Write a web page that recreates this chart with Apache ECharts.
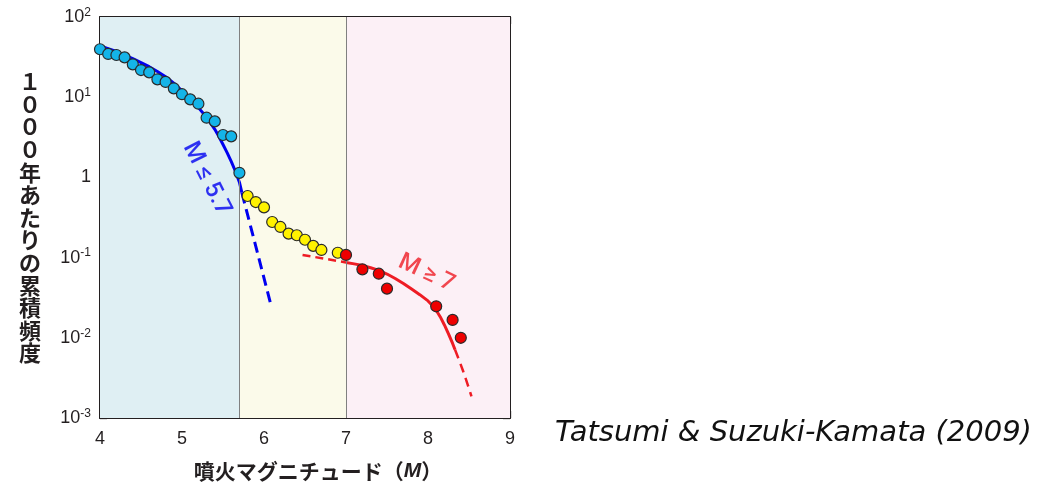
<!DOCTYPE html>
<html><head><meta charset="utf-8">
<script src="https://cdn.jsdelivr.net/npm/echarts@6/dist/echarts.min.js"></script>
<style>html,body{margin:0;padding:0;background:#fff;}#c{width:1038px;height:484px;}</style>
</head><body><div id="c"></div>
<script>
// ---- data ----
const xTicks = [4, 5, 6, 7, 8, 9];
const yTickExponents = [-3, -2, -1, 0, 1, 2];
const regionBounds = [4, 5.7, 7, 9];
const xTitle = '噴火マグニチュード（{i|M}）';
const yTitle = '１０００年あたりの累積頻度';
const credit = 'Tatsumi & Suzuki-Kamata (2009)';
const smallLabel = 'M ≤ 5.7';
const largeLabel = 'M ≥ 7';

const smallM = [4.0, 4.1, 4.2, 4.3, 4.4, 4.5, 4.6, 4.7, 4.8, 4.9, 5.0, 5.1, 5.2, 5.3, 5.4, 5.5, 5.6, 5.7];
const smallN = [39.6, 34.6, 33.6, 31.4, 25.7, 21.8, 20.4, 16.7, 15.5, 12.9, 10.9, 9.4, 8.3, 5.55, 5.0, 3.38, 3.25, 1.14];
const midM = [5.8, 5.9, 6.0, 6.1, 6.2, 6.3, 6.4, 6.5, 6.6, 6.7, 6.9];
const midN = [0.586, 0.493, 0.423, 0.278, 0.241, 0.199, 0.190, 0.167, 0.140, 0.1245, 0.115];
const largeM = [7.0, 7.2, 7.4, 7.5, 8.1, 8.3, 8.4];
const largeN = [0.108, 0.0714, 0.063, 0.041, 0.0247, 0.0167, 0.0100];

const blueFitM = [4.0, 4.1, 4.2, 4.3, 4.4, 4.5, 4.6, 4.7, 4.8, 4.9, 5.0, 5.1, 5.2, 5.3, 5.4, 5.45, 5.5, 5.55, 5.6, 5.65, 5.7, 5.73];
const blueFitN = [43.65, 40.27, 37.15, 33.50, 30.20, 26.92, 23.99, 20.89, 17.99, 14.96, 12.02, 9.55, 7.41, 5.62, 3.98, 3.24, 2.57, 2.04, 1.585, 1.202, 0.871, 0.646];
const blueDashM = [5.73, 6.09];
const blueDashN = [0.646, 0.0245];
const redDashLeftM = [6.47, 7.0];
const redDashLeftN = [0.108, 0.0871];
const redFitM = [7.0, 7.1, 7.2, 7.3, 7.4, 7.5, 7.6, 7.7, 7.8, 7.9, 8.0, 8.065, 8.1, 8.15, 8.2, 8.25, 8.3, 8.33];
const redFitN = [0.0871, 0.08356, 0.0798, 0.07482, 0.06918, 0.06237, 0.05495, 0.04764, 0.04055, 0.03451, 0.02884, 0.02455, 0.02208, 0.0182, 0.01445, 0.01122, 0.00851, 0.00708];
const redDashRightM = [8.33, 8.38, 8.43, 8.48, 8.53];
const redDashRightN = [0.00708, 0.00525, 0.0038, 0.00269, 0.00186];

const smallLabelPos = [5.30, 0.955];
const largeLabelPos = [7.98, 0.0637];

const regionColors = ['#dfeff3', '#fbfaea', '#fcf0f6'];
const C = { blue: '#0000f0', red: '#ee1c24', ink: '#231f20' };

const zip = (a, b) => a.map((v, i) => [v, b[i]]);

const chart = echarts.init(document.getElementById('c'));
const axisLine = { show: true, onZero: false, lineStyle: { color: C.ink, width: 2 } };
const axisTick = { show: true, inside: true, length: 7, lineStyle: { color: C.ink, width: 1.3 } };
const labelFont = { fontFamily: 'Liberation Sans', fontSize: 18, color: C.ink };

function expLabel(v) {
  const e = Math.round(Math.log10(v));
  if (e === 0) return '{b|1}';
  return '{b|10}{s|' + e + '}';
}

chart.setOption({
  animation: false,
  grid: { left: 100, right: 528, top: 17, bottom: 66, outerBoundsMode: 'none', containLabel: false },
  xAxis: [
    { type: 'value', min: xTicks[0], max: xTicks[xTicks.length - 1], interval: 1, position: 'bottom',
      axisLine, axisTick, splitLine: { show: false },
      axisLabel: Object.assign({ margin: 12 }, labelFont),
      name: xTitle, nameLocation: 'middle', nameGap: 43,
      nameTextStyle: { fontFamily: 'Noto Sans CJK JP', fontWeight: 'bold', fontSize: 21, color: C.ink, padding: [0, 0, 0, 26],
        rich: { i: { fontFamily: 'Liberation Sans', fontStyle: 'italic', fontWeight: 'bold', fontSize: 21, color: C.ink } } } },
    { type: 'value', min: xTicks[0], max: xTicks[xTicks.length - 1], interval: 1, position: 'top',
      axisLine, axisTick, splitLine: { show: false }, axisLabel: { show: false } }
  ],
  yAxis: [
    { type: 'log', logBase: 10, min: Math.pow(10, yTickExponents[0]), max: Math.pow(10, yTickExponents[yTickExponents.length - 1]),
      splitNumber: 5, position: 'left', axisLine, axisTick, splitLine: { show: false }, minorTick: { show: false },
      axisLabel: { margin: 9, formatter: expLabel,
        rich: { b: { fontFamily: 'Liberation Sans', fontSize: 18, color: C.ink },
                s: { fontFamily: 'Liberation Sans', fontSize: 12, color: C.ink, verticalAlign: 'top', padding: [0, 0, 9, 0] } } },
      name: yTitle.split('').join('\n'), nameLocation: 'middle', nameRotate: 0, nameGap: 70,
      nameTextStyle: { fontFamily: 'Noto Sans CJK JP', fontWeight: 'bold', fontSize: 22, lineHeight: 22.6, color: C.ink, align: 'center', padding: [0, 0, 8, 0] } },
    { type: 'log', logBase: 10, min: Math.pow(10, yTickExponents[0]), max: Math.pow(10, yTickExponents[yTickExponents.length - 1]),
      splitNumber: 5, position: 'right', axisLine, axisTick, splitLine: { show: false }, axisLabel: { show: false } }
  ],
  series: [
    { type: 'line', data: [], z: 1,
      markArea: { silent: true, data: regionColors.map((c, i) => [{ xAxis: regionBounds[i], itemStyle: { color: c } }, { xAxis: regionBounds[i + 1] }]) },
      markLine: { silent: true, symbol: 'none', label: { show: false }, lineStyle: { color: '#808080', width: 1, type: 'solid' },
        data: regionBounds.slice(1, 3).map(v => ({ xAxis: v })) } },
    { type: 'line', data: zip(blueFitM, blueFitN), showSymbol: false, z: 3, lineStyle: { color: C.blue, width: 3, join: 'round' } },
    { type: 'line', data: zip(blueDashM, blueDashN), showSymbol: false, z: 3, lineStyle: { color: C.blue, width: 3, type: [11, 6] } },
    { type: 'line', data: zip(redDashLeftM, redDashLeftN), showSymbol: false, z: 3, lineStyle: { color: C.red, width: 2.5, type: [8, 5] } },
    { type: 'line', data: zip(redFitM, redFitN), showSymbol: false, z: 3, lineStyle: { color: C.red, width: 3, join: 'round' } },
    { type: 'line', data: zip(redDashRightM, redDashRightN), showSymbol: false, z: 3, lineStyle: { color: C.red, width: 2.5, type: [9, 6] } },
    { type: 'scatter', data: zip(smallM, smallN), symbolSize: 11, z: 5, itemStyle: { color: '#14b4e8', borderColor: '#2a2a2a', borderWidth: 1.2, opacity: 1 } },
    { type: 'scatter', data: zip(midM, midN), symbolSize: 11, z: 5, itemStyle: { color: '#fff200', borderColor: '#2a2a2a', borderWidth: 1.2, opacity: 1 } },
    { type: 'scatter', data: zip(largeM, largeN), symbolSize: 11, z: 5, itemStyle: { color: '#ee0000', borderColor: '#2a2a2a', borderWidth: 1.2, opacity: 1 } },
    { type: 'scatter', data: [smallLabelPos], symbolSize: 0, z: 6, itemStyle: { color: 'transparent' },
      label: { show: true, position: 'inside', formatter: smallLabel, rotate: -63, color: C.blue, fontFamily: 'Roboto', fontWeight: 500, fontSize: 24 } },
    { type: 'scatter', data: [largeLabelPos], symbolSize: 0, z: 6, itemStyle: { color: 'transparent' },
      label: { show: true, position: 'inside', formatter: largeLabel, rotate: -25, color: C.red, fontFamily: 'Roboto', fontWeight: 500, fontSize: 24 } }
  ],
  graphic: [
    { type: 'text', left: 555, top: 419, style: { text: credit, fontFamily: 'DejaVu Sans', fontStyle: 'italic', fontSize: 29, fill: '#111' } }
  ]
});
</script>
</body></html>
